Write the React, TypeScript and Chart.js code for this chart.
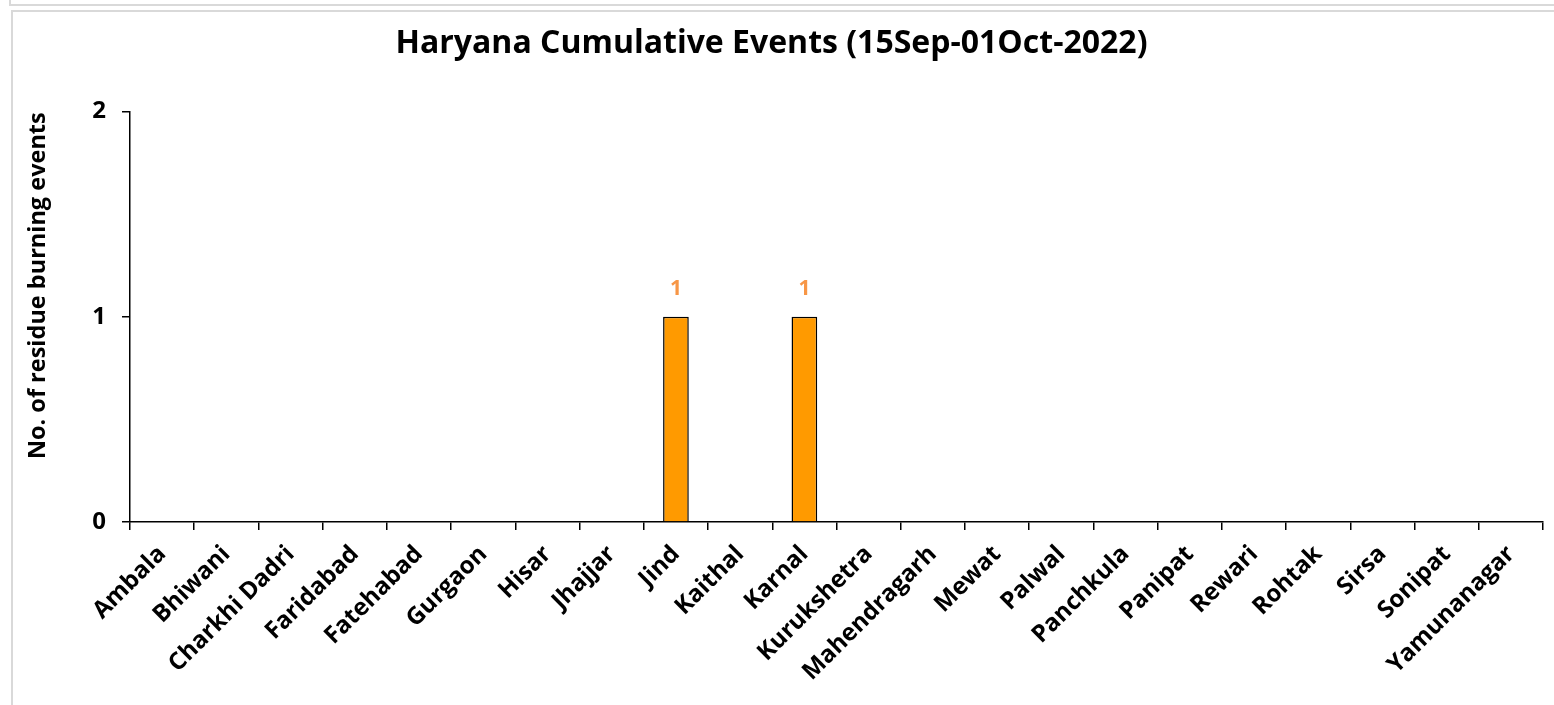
import React, { useEffect, useRef } from "react";
import { Chart, registerables } from "chart.js";

Chart.register(...registerables);

const districts = [
  "Ambala", "Bhiwani", "Charkhi Dadri", "Faridabad", "Fatehabad", "Gurgaon",
  "Hisar", "Jhajjar", "Jind", "Kaithal", "Karnal", "Kurukshetra",
  "Mahendragarh", "Mewat", "Palwal", "Panchkula", "Panipat", "Rewari",
  "Rohtak", "Sirsa", "Sonipat", "Yamunanagar",
];
const events = [0, 0, 0, 0, 0, 0, 0, 0, 1, 0, 1, 0, 0, 0, 0, 0, 0, 0, 0, 0, 0, 0];
const yTickValues = [0, 1, 2];
const chartTitle = "Haryana Cumulative Events (15Sep-01Oct-2022)";
const yAxisTitle = "No. of residue burning events";

const FONT = "'Open Sans', 'Noto Sans', sans-serif";

const extraText = {
  id: "extraText",
  afterDatasetsDraw(chart: any) {
    const ctx = chart.ctx;
    const meta = chart.getDatasetMeta(0);
    ctx.save();
    ctx.font = `bold 21px ${FONT}`;
    ctx.fillStyle = "#F79646";
    ctx.textAlign = "center";
    ctx.textBaseline = "middle";
    meta.data.forEach((bar: any, i: number) => {
      const v = events[i];
      if (v > 0) ctx.fillText(String(v), bar.x, bar.y - 28);
    });
    ctx.restore();
  },
  afterDraw(chart: any) {
    const ctx = chart.ctx;
    const area = chart.chartArea;
    ctx.save();
    ctx.font = `bold 23.5px ${FONT}`;
    ctx.fillStyle = "#000";
    ctx.textAlign = "center";
    ctx.textBaseline = "middle";
    ctx.translate(38, (area.top + area.bottom) / 2 - 31);
    ctx.rotate(-Math.PI / 2);
    ctx.fillText(yAxisTitle, 0, 0);
    ctx.restore();
  },
};

export default function App() {
  const ref = useRef<HTMLCanvasElement | null>(null);

  useEffect(() => {
    if (!ref.current) return;
    const chart = new Chart(ref.current, {
      type: "bar",
      data: {
        labels: districts,
        datasets: [
          {
            data: events,
            backgroundColor: "#FF9A00",
            borderColor: "#000000",
            borderWidth: (c: any) => (c.raw > 0 ? 1.5 : 0),
            barPercentage: 0.4,
            categoryPercentage: 1,
          },
        ],
      },
      options: {
        animation: false,
        responsive: false,
        maintainAspectRatio: false,
        layout: { padding: { left: 0, right: 3, top: 0, bottom: 0 } },
        plugins: {
          legend: { display: false },
          tooltip: { enabled: false },
          title: {
            display: true,
            text: chartTitle,
            color: "#000",
            font: { family: FONT, size: 32, weight: "bold" },
            padding: { top: 25, bottom: 48 },
          },
        },
        scales: {
          x: {
            offset: true,
            grid: {
              display: true,
              drawOnChartArea: false,
              drawTicks: true,
              tickLength: 8,
              color: "#000",
              lineWidth: 1.5,
              offset: true,
            },
            border: { display: true, color: "#000", width: 1.5 },
            ticks: {
              autoSkip: false,
              maxRotation: 45,
              minRotation: 45,
              color: "#000",
              padding: 10,
              font: { family: FONT, size: 24, weight: "bold" },
            },
            afterFit(scale: any) {
              scale.height = 705 - 522;
            },
          },
          y: {
            min: 0,
            max: 2,
            afterBuildTicks(scale: any) {
              scale.ticks = yTickValues.map((v) => ({ value: v }));
            },
            grid: {
              display: true,
              drawOnChartArea: false,
              drawTicks: true,
              tickLength: 8,
              color: "#000",
              lineWidth: 1.5,
            },
            border: { display: true, color: "#000", width: 1.5 },
            ticks: {
              color: "#000",
              padding: 16,
              font: { family: FONT, size: 24, weight: "bold" },
            },
            afterFit(scale: any) {
              scale.width = 130;
            },
          },
        },
      },
      plugins: [extraText],
    });
    return () => chart.destroy();
  }, []);

  return (
    <div style={{ position: "absolute", left: 0, top: 0, width: 1554, height: 705, overflow: "hidden", background: "#fff" }}>
      <div style={{ position: "absolute", left: 9, top: -10, width: 1600, height: 14, borderLeft: "2px solid #d9d9d9", borderBottom: "2px solid #d9d9d9" }} />
      <div style={{ position: "absolute", left: 11, top: 10, width: 1600, height: 800, borderLeft: "2px solid #d9d9d9", borderTop: "2px solid #d9d9d9" }} />
      <canvas ref={ref} width={1546} height={705} style={{ position: "absolute", left: 0, top: 0, width: 1546, height: 705 }} />
    </div>
  );
}
